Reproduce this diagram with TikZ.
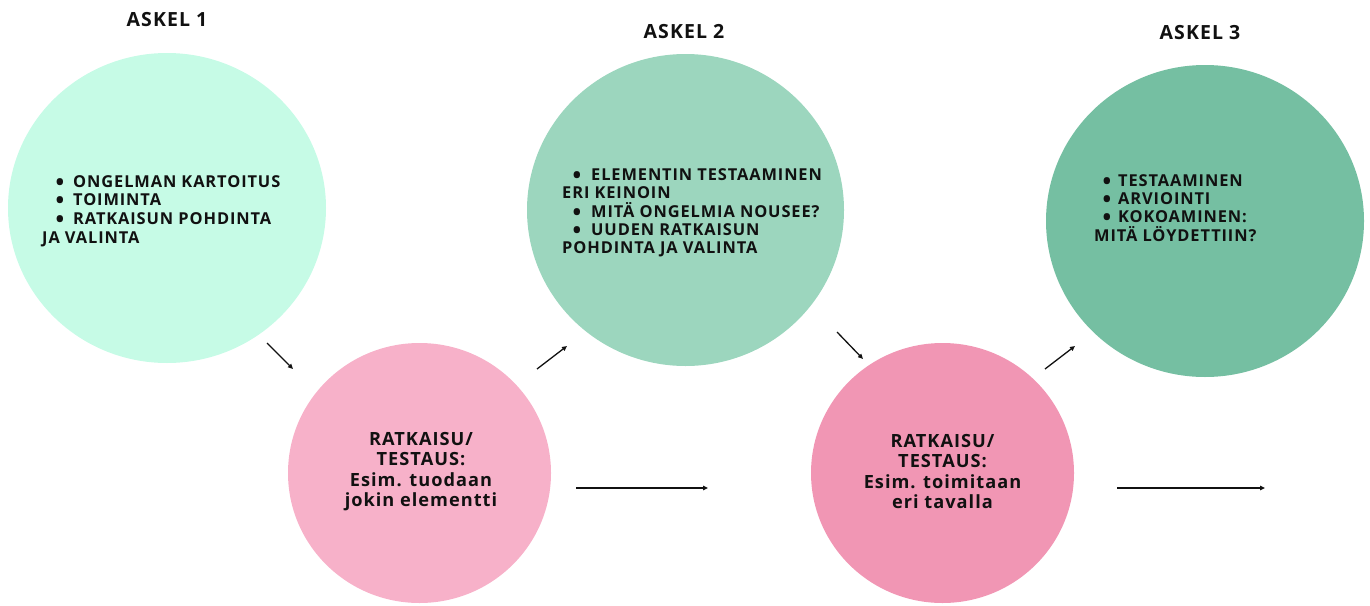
\documentclass[tikz,border=0pt]{standalone}
\usepackage{graphicx}
\usepackage{fontspec}
\setmainfont{Open Sans}[LetterSpace=5.5]
\usetikzlibrary{arrows.meta,shapes.geometric}
\definecolor{mintA}{HTML}{C6FBE6}
\definecolor{greenB}{HTML}{9CD6BE}
\definecolor{greenC}{HTML}{75BFA2}
\definecolor{pinkA}{HTML}{F7B1C9}
\definecolor{pinkB}{HTML}{F196B4}
\definecolor{ink}{HTML}{111111}
\newcommand{\bigdot}{\raisebox{-3pt}{\scalebox{1.4}{•}}}
\tikzset{
  blob/.style={ellipse, inner sep=0pt, draw=none},
  title/.style={anchor=base, inner sep=0pt, text=ink, font=\fontsize{19.5}{21}\selectfont\bfseries},
  item/.style={anchor=base west, inner sep=0pt, text height=12pt, text depth=2pt, text=ink, font=\fontsize{16.4}{18}\selectfont\bfseries},
  dot/.style={anchor=base, inner sep=0pt, text height=9pt, text depth=0pt, text=ink, font=\fontsize{16.4}{18}\selectfont\bfseries},
  mid/.style={anchor=base, inner sep=0pt, text height=13.5pt, text depth=3.5pt, text=ink, font=\fontsize{18.2}{20}\selectfont\bfseries},
  arr/.style={-{Triangle[length=5pt,width=4.5pt]}, line width=1.3pt, draw=ink}
}
\begin{document}
\begin{tikzpicture}[x=1pt,y=-1pt]
\useasboundingbox (0,0) rectangle (1370,605);
\clip (0,0) rectangle (1370,605);
% circles
\node[blob, fill=mintA, minimum width=318pt, minimum height=310pt] (c1) at (167,208) {};
\node[blob, fill=greenB, minimum width=317pt, minimum height=312pt] (c3) at (685.5,210) {};
\node[blob, fill=greenC, minimum width=318pt, minimum height=312pt] (c5) at (1205,221) {};
\node[blob, fill=pinkA, minimum width=263pt, minimum height=260pt] (c2) at (419.5,473) {};
\node[blob, fill=pinkB, minimum width=263pt, minimum height=260pt] (c4) at (942.5,473) {};
% titles
\node[title] (h1) at (167,27) {ASKEL 1};
\node[title] (h2) at (684,38) {ASKEL 2};
\node[title] (h3) at (1200,39) {ASKEL 3};
% circle 1 text
\node[dot] (b1a) at (60,187) {\bigdot};
\node[item] (t1a) at (73,187) {ONGELMAN KARTOITUS};
\node[dot] (b1b) at (60,205) {\bigdot};
\node[item] (t1b) at (73,205) {TOIMINTA};
\node[dot] (b1c) at (60,224) {\bigdot};
\node[item] (t1c) at (73,224) {RATKAISUN POHDINTA};
\node[item] (t1d) at (42,243) {JA VALINTA};
% circle 3 text
\node[dot] (b3a) at (577,180) {\bigdot};
\node[item] (t3a) at (591,180) {ELEMENTIN TESTAAMINEN};
\node[item] (t3b) at (562,198) {ERI KEINOIN};
\node[dot] (b3c) at (577,217) {\bigdot};
\node[item] (t3c) at (591,217) {MITÄ ONGELMIA NOUSEE?};
\node[dot] (b3d) at (577,235) {\bigdot};
\node[item] (t3d) at (591,235) {UUDEN RATKAISUN};
\node[item] (t3e) at (562,253) {POHDINTA JA VALINTA};
% circle 5 text
\node[dot] (b5a) at (1107,186) {\bigdot};
\node[item] (t5a) at (1118,186) {TESTAAMINEN};
\node[dot] (b5b) at (1107,204) {\bigdot};
\node[item] (t5b) at (1118,204) {ARVIOINTI};
\node[dot] (b5c) at (1107,222) {\bigdot};
\node[item] (t5c) at (1118,222) {KOKOAMINEN:};
\node[item] (t5d) at (1094,241) {MITÄ LÖYDETTIIN?};
% pink texts
\node[mid] (t2a) at (421,445) {RATKAISU/};
\node[mid] (t2b) at (421,465) {TESTAUS:};
\node[mid] (t2c) at (421,486) {Esim. tuodaan};
\node[mid] (t2d) at (421,506) {jokin elementti};
\node[mid] (t4a) at (942.5,447) {RATKAISU/};
\node[mid] (t4b) at (942.5,467) {TESTAUS:};
\node[mid] (t4c) at (942.5,488) {Esim. toimitaan};
\node[mid] (t4d) at (942.5,508) {eri tavalla};
% arrow end points
\coordinate (a1s) at (267,343); \coordinate (a1e) at (293,369);
\coordinate (a2s) at (537,369); \coordinate (a2e) at (567,346);
\coordinate (a3s) at (576,488); \coordinate (a3e) at (708,488);
\coordinate (a4s) at (837,332); \coordinate (a4e) at (863,359);
\coordinate (a5s) at (1045,369); \coordinate (a5e) at (1075,346);
\coordinate (a6s) at (1117,488); \coordinate (a6e) at (1265,488);
\draw[arr] (a1s) -- (a1e);
\draw[arr] (a2s) -- (a2e);
\draw[arr] (a3s) -- (a3e);
\draw[arr] (a4s) -- (a4e);
\draw[arr] (a5s) -- (a5e);
\draw[arr] (a6s) -- (a6e);
\end{tikzpicture}
\end{document}
